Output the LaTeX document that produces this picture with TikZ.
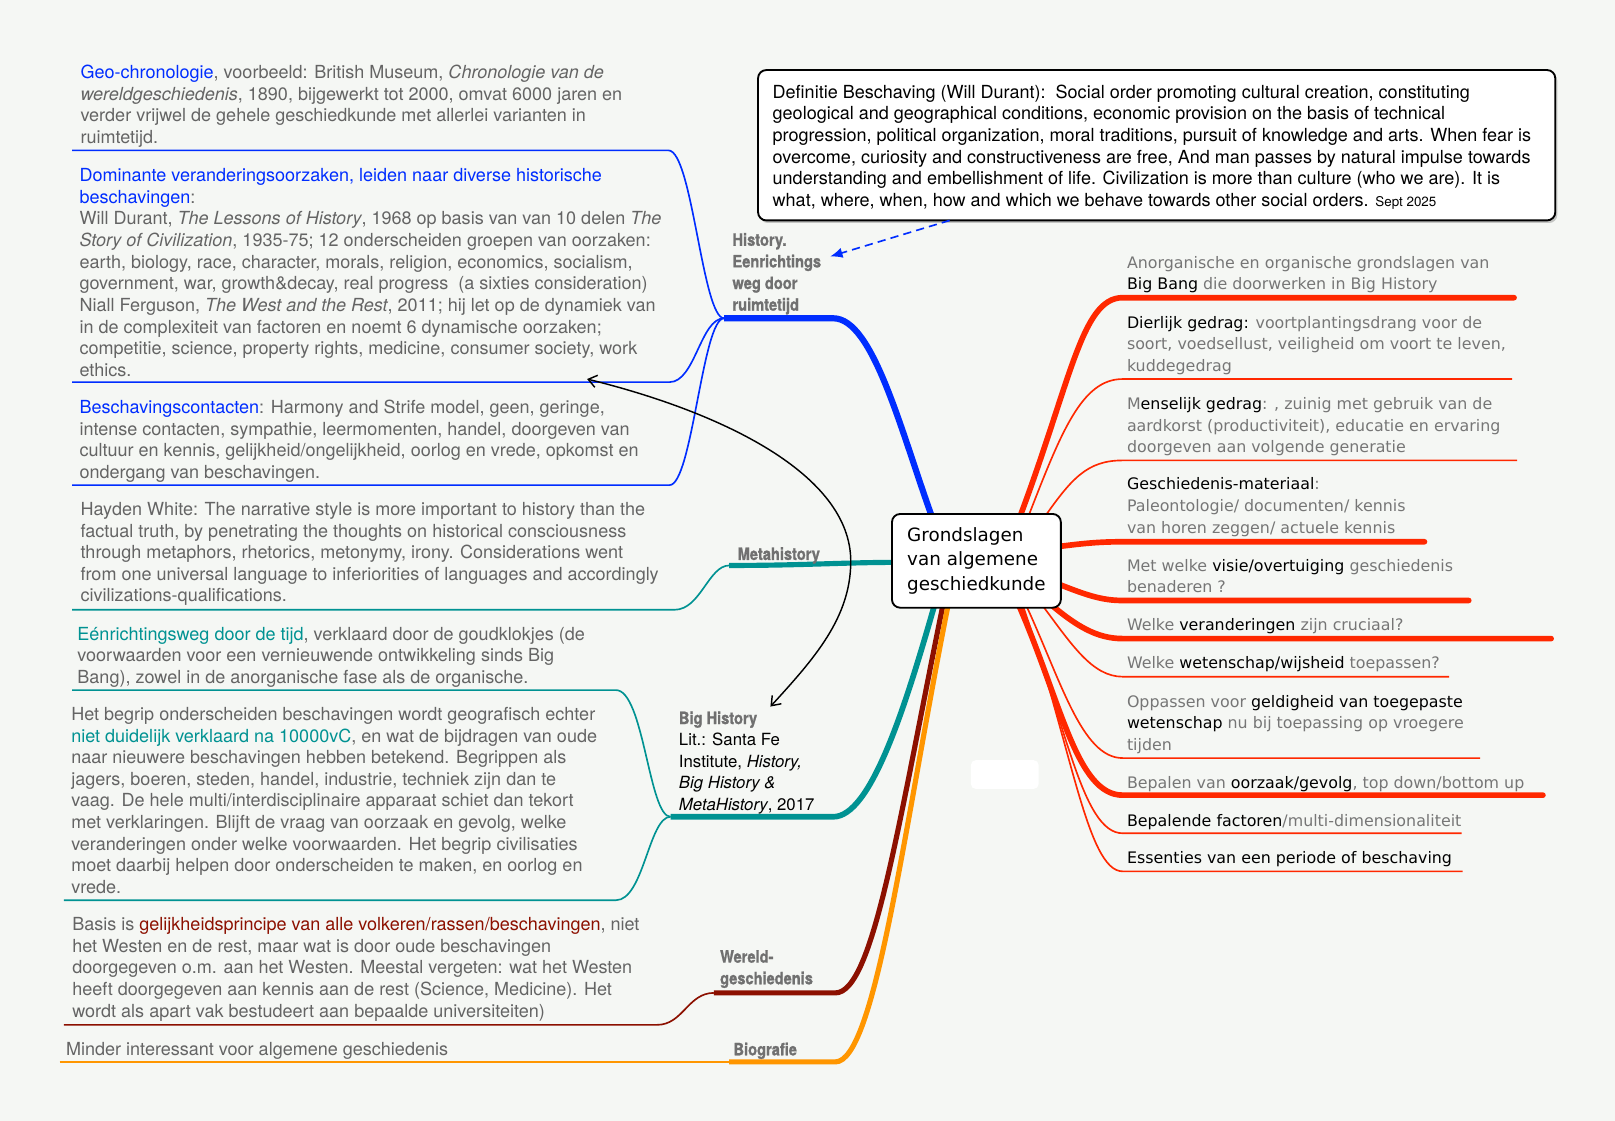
\documentclass[tikz,border=0pt]{standalone}
\usepackage{fontspec}
\setmainfont{TeX Gyre Heros}
\newfontfamily\rfont{DejaVu Sans}
\newfontfamily\lblfont{TeX Gyre Heros}[FakeStretch=0.86, BoldFeatures={FakeBold=1.2}]
\usetikzlibrary{arrows.meta}
\definecolor{bgc}{RGB}{245,247,244}
\definecolor{txtg}{RGB}{100,100,100}
\definecolor{rtg}{RGB}{118,118,118}
\definecolor{lblg}{RGB}{112,112,112}
\definecolor{bl}{RGB}{0,45,255}
\definecolor{tl}{RGB}{0,146,146}
\definecolor{dr}{RGB}{140,16,0}
\definecolor{org}{RGB}{255,150,0}
\definecolor{rd}{RGB}{255,40,0}
\newcommand\toprl{\rule{0pt}{1em}}
\newcommand\cb[1]{\textcolor{bl}{#1}}
\newcommand\ct[1]{\textcolor{tl}{#1}}
\newcommand\cdr[1]{\textcolor{dr}{#1}}
\newcommand\bk[1]{\textcolor{black}{#1}}
\begin{document}
\begin{tikzpicture}[x=1pt,y=-1pt,
  ltxt/.style={anchor=north west, inner sep=0pt, align=left, text=txtg, font=\fontsize{17.5}{21}\selectfont, yshift=11.3pt},
  rtxt/.style={anchor=north west, inner sep=0pt, align=left, text=rtg, font=\rfont\fontsize{15.4}{21}\selectfont, yshift=10.1pt},
  lbl/.style={anchor=north west, inner sep=0pt, align=left, text=lblg, font=\lblfont\bfseries\fontsize{16.5}{21}\selectfont, yshift=10.1pt},
  thinln/.style={line width=1.6pt},
  thickln/.style={line width=5.5pt, line cap=round},
]
\fill[bgc] (0,0) rectangle (1568,1088);
\useasboundingbox (0,0) rectangle (1568,1088);

% hubs
\coordinate (hA) at (703,309);
\coordinate (hB) at (708,549);
\coordinate (hC) at (651,793);
\coordinate (hD) at (693,964);
\coordinate (hE) at (708,1031);

% blue branch
\draw[bl, line width=6pt] (hA) -- (809,309) .. controls (848,309) and (875,420) .. (906,505);
\draw[bl, thinln] (70,146) -- (649,146) .. controls (672,146) and (682,309) .. (hA);
\draw[bl, thinln] (70,371) -- (650,371) .. controls (675,371) and (680,309) .. (hA);
\draw[bl, thinln] (70,471) -- (650,471) .. controls (672,471) and (682,309) .. (hA);

% metahistory
\draw[tl, line width=5pt] (hB) .. controls (780,549) and (820,546) .. (870,546);
\draw[tl, thinln] (70,592) -- (655,592) .. controls (680,592) and (688,549) .. (hB);

% big history
\draw[tl, line width=5.5pt] (hC) -- (809,793) .. controls (845,793) and (878,690) .. (908,585);
\draw[tl, thinln] (70,670) -- (598,670) .. controls (625,670) and (630,793) .. (hC);
\draw[tl, thinln] (62,874) -- (598,874) .. controls (625,874) and (630,793) .. (hC);

% wereldgeschiedenis
\draw[dr, line width=5pt] (hD) -- (811,964) .. controls (848,964) and (872,800) .. (916,585);
\draw[dr, thinln] (62,995) -- (638,995) .. controls (663,995) and (668,964) .. (hD);

% biografie
\draw[org, line width=5pt] (hE) -- (811,1031) .. controls (850,1031) and (878,800) .. (921,585);
\draw[org, line width=2pt] (58,1031) -- (hE);

% red branches
\draw[rd, thickln] (989,505) .. controls (1040,370) and (1050,289) .. (1090,289) -- (1470,289);
\draw[rd, thinln] (997,505) .. controls (1030,420) and (1050,368) .. (1090,368) -- (1468,368);
\draw[rd, thinln] (1012,505) .. controls (1040,465) and (1055,447) .. (1090,447) -- (1473,447);
\draw[rd, thickln] (1025,531) .. controls (1055,527) and (1070,526) .. (1090,526) -- (1383,526);
\draw[rd, thickln] (1025,566) .. controls (1055,578) and (1070,583) .. (1090,583) -- (1426,583);
\draw[rd, thickln] (1018,585) .. controls (1045,608) and (1065,620) .. (1090,620) -- (1506,620);
\draw[rd, thinln] (1010,585) .. controls (1040,625) and (1060,657) .. (1090,657) -- (1407,657);
\draw[rd, thinln] (995,585) .. controls (1030,660) and (1050,736) .. (1090,736) -- (1437,736);
\draw[rd, thickln] (988,585) .. controls (1030,680) and (1045,772) .. (1090,772) -- (1498,772);
\draw[rd, thinln] (990,585) .. controls (1035,700) and (1050,809) .. (1090,809) -- (1419,809);
\draw[rd, thinln] (992,585) .. controls (1040,720) and (1055,846) .. (1090,846) -- (1420,846);

% black double arrow
\coordinate (aS) at (570,368);
\coordinate (aE) at (748,686);
\draw[black, line width=1.4pt, {Straight Barb[length=8pt,width=12pt]}-{Straight Barb[length=8pt,width=12pt]}]
  (aS) .. controls (700,400) and (826,460) .. (826,545) .. controls (826,600) and (790,640) .. (aE);

% central box
\node[draw=black, line width=1.8pt, fill=white, rounded corners=8pt, minimum width=164pt, minimum height=91pt, align=left, font=\rfont\fontsize{17.8}{24}\selectfont, inner sep=0pt] (ctr) at (948,544.5) {Grondslagen\\ van algemene\\ geschiedkunde};

% definition box
\fill[black, opacity=0.2, rounded corners=8pt] (737.5,70.5) rectangle (1512,216.5);
\node[draw=black, line width=1.8pt, fill=white, rounded corners=8pt, minimum width=774pt, minimum height=146pt, inner sep=0pt] (def) at (1123,141) {};
\node[ltxt, text=black] (deftxt) at (750,89) {\toprl Definitie Beschaving (Will Durant):\ \ Social order promoting cultural creation, constituting\\ geological and geographical conditions, economic provision on the basis of technical\\ progression, political organization, moral traditions, pursuit of knowledge and arts. When fear is\\ overcome, curiosity and constructiveness are free, And man passes by natural impulse towards\\ understanding and embellishment of life. Civilization is more than culture (who we are). It is\\ what, where, when, how and which we behave towards other social orders. {\fontsize{13}{21}\selectfont Sept 2025}};
\coordinate (dS) at (922,214);
\draw[bl, line width=1.6pt, dash pattern=on 8pt off 5pt, -{Latex[length=12pt,width=10pt]}] (dS) -- (806,249);

% small blank box
\node[fill=white, rounded corners=5pt, minimum width=66pt, minimum height=28pt, inner sep=0pt] (blank) at (975.5,752) {};

% labels
\node[lbl] (lA) at (711,232) {\toprl History.\\ Eenrichtings\\ weg door\\ ruimtetijd};
\node[lbl] (lB) at (716,537) {\toprl Metahistory};
\node[ltxt, text=black, font=\fontsize{16.3}{21}\selectfont, yshift=-0.8pt] (lC) at (659,697) {\toprl{\lblfont\bfseries\fontsize{16.5}{21}\selectfont\color{lblg}Big History}\\ Lit.: Santa Fe\\ Institute, \textit{History,}\\ \textit{Big History \&}\\ \textit{MetaHistory}, 2017};
\node[lbl] (lD) at (699,928) {\toprl Wereld-\\ geschiedenis};
\node[lbl] (lE) at (712,1018) {\toprl Biografie};

% left texts
\node[ltxt] (t1) at (78,70) {\toprl\cb{Geo-chronologie}, voorbeeld: British Museum, \textit{Chronologie van de}\\ \textit{wereldgeschiedenis}, 1890, bijgewerkt tot 2000, omvat 6000 jaren en\\ verder vrijwel de gehele geschiedkunde met allerlei varianten in\\ ruimtetijd.};
\node[ltxt] (t2) at (77,170) {\toprl\cb{Dominante veranderingsoorzaken, leiden naar diverse historische}\\ \cb{beschavingen}:\\ Will Durant, \textit{The Lessons of History}, 1968 op basis van van 10 delen \textit{The}\\ \textit{Story of Civilization}, 1935-75; 12 onderscheiden groepen van oorzaken:\\ earth, biology, race, character, morals, religion, economics, socialism,\\ government, war, growth\&decay, real progress\ \ (a sixties consideration)\\ Niall Ferguson, \textit{The West and the Rest}, 2011; hij let op de dynamiek van\\ in de complexiteit van factoren en noemt 6 dynamische oorzaken;\\ competitie, science, property rights, medicine, consumer society, work\\ ethics.};
\node[ltxt] (t3) at (77,395) {\toprl\cb{Beschavingscontacten}: Harmony and Strife model, geen, geringe,\\ intense contacten, sympathie, leermomenten, handel, doorgeven van\\ cultuur en kennis, gelijkheid/ongelijkheid, oorlog en vrede, opkomst en\\ ondergang van beschavingen.};
\node[ltxt] (t4) at (78,494) {\toprl Hayden White: The narrative style is more important to history than the\\ factual truth, by penetrating the thoughts on historical consciousness\\ through metaphors, rhetorics, metonymy, irony. Considerations went\\ from one universal language to inferiorities of languages and accordingly\\ civilizations-qualifications.};
\node[ltxt] (t5) at (75,615) {\toprl\ct{Eénrichtingsweg door de tijd}, verklaard door de goudklokjes (de\\ voorwaarden voor een vernieuwende ontwikkeling sinds Big\\ Bang), zowel in de anorganische fase als de organische.};
\node[ltxt] (t6) at (69,693) {\toprl Het begrip onderscheiden beschavingen wordt geografisch echter\\ \ct{niet duidelijk verklaard na 10000vC}, en wat de bijdragen van oude\\ naar nieuwere beschavingen hebben betekend. Begrippen als\\ jagers, boeren, steden, handel, industrie, techniek zijn dan te\\ vaag. De hele multi/interdisciplinaire apparaat schiet dan tekort\\ met verklaringen. Blijft de vraag van oorzaak en gevolg, welke\\ veranderingen onder welke voorwaarden. Het begrip civilisaties\\ moet daarbij helpen door onderscheiden te maken, en oorlog en\\ vrede.};
\node[ltxt] (t7) at (70,897) {\toprl Basis is \cdr{gelijkheidsprincipe van alle volkeren/rassen/beschavingen}, niet\\ het Westen en de rest, maar wat is door oude beschavingen\\ doorgegeven o.m. aan het Westen. Meestal vergeten: wat het Westen\\ heeft doorgegeven aan kennis aan de rest (Science, Medicine). Het\\ wordt als apart vak bestudeert aan bepaalde universiteiten)};
\node[ltxt] (t8) at (64,1018) {\toprl Minder interessant voor algemene geschiedenis};

% right texts
\node[rtxt] (r1) at (1094,255) {\toprl Anorganische en organische grondslagen van\\ \bk{Big Bang} die doorwerken in Big History};
\node[rtxt] (r2) at (1094,313) {\toprl\bk{Dierlijk gedrag:} voortplantingsdrang voor de\\ soort, voedsellust, veiligheid om voort te leven,\\ kuddegedrag};
\node[rtxt] (r3) at (1094,392) {\toprl M\bk{enselijk gedrag}: , zuinig met gebruik van de\\ aardkorst (productiviteit), educatie en ervaring\\ doorgeven aan volgende generatie};
\node[rtxt] (r4) at (1094,470) {\toprl\bk{Geschiedenis-materiaal}:\\ Paleontologie/ documenten/ kennis\\ van horen zeggen/ actuele kennis};
\node[rtxt] (r5) at (1094,549) {\toprl Met welke \bk{visie/overtuiging} geschiedenis\\ benaderen ?};
\node[rtxt] (r6) at (1094,607) {\toprl Welke \bk{veranderingen} zijn cruciaal?};
\node[rtxt] (r7) at (1094,644) {\toprl Welke \bk{wetenschap/wijsheid} toepassen?};
\node[rtxt] (r8) at (1094,681) {\toprl Oppassen voor \bk{geldigheid van toegepaste}\\ \bk{wetenschap} nu bij toepassing op vroegere\\ tijden};
\node[rtxt] (r9) at (1094,760) {\toprl Bepalen van \bk{oorzaak/gevolg}, top down/bottom up};
\node[rtxt] (r10) at (1094,797) {\toprl\bk{Bepalende factoren}/multi-dimensionaliteit};
\node[rtxt] (r11) at (1094,833) {\toprl\bk{Essenties van een periode of beschaving}};
\end{tikzpicture}
\end{document}
